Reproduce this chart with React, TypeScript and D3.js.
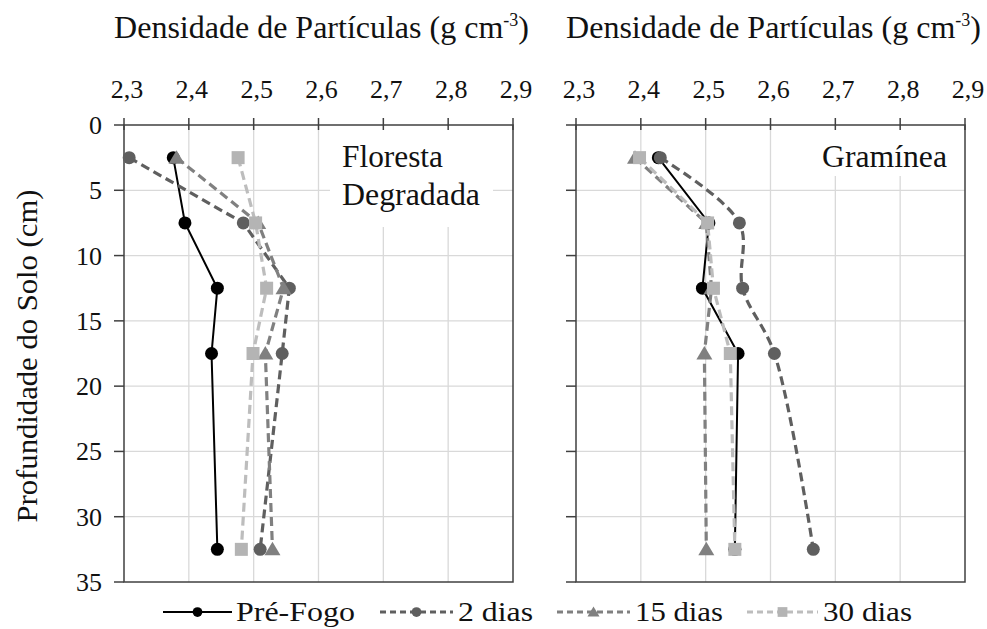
import React from 'react';
import * as d3 from 'd3';

// depths (cm) of the sampled layers
const depths = [2.5, 7.5, 12.5, 17.5, 32.5];
const xTicks = [2.3, 2.4, 2.5, 2.6, 2.7, 2.8, 2.9];
const yTicks = [0, 5, 10, 15, 20, 25, 30, 35];
const seriesNames = ['Pré-Fogo', '2 dias', '15 dias', '30 dias'];

// Floresta Degradada
const florestaPre = [2.376, 2.394, 2.444, 2.435, 2.444];
const floresta2 = [2.308, 2.484, 2.555, 2.544, 2.51];
const floresta15 = [2.381, 2.507, 2.546, 2.518, 2.529];
const floresta30 = [2.476, 2.503, 2.52, 2.499, 2.481];

// Gramínea
const gramPre = [2.427, 2.505, 2.495, 2.55, 2.545];
const gram2 = [2.43, 2.552, 2.557, 2.606, 2.666];
const gram15 = [2.391, 2.501, 2.509, 2.498, 2.501];
const gram30 = [2.398, 2.503, 2.512, 2.538, 2.545];

const styles = [
  { color: '#000000', marker: '#000000', dash: '', width: 2, shape: 'circle' },
  { color: '#5f5f5f', marker: '#5f5f5f', dash: '9,5', width: 3.2, shape: 'circle' },
  { color: '#808080', marker: '#808080', dash: '9,5', width: 3.2, shape: 'triangle' },
  { color: '#bdbdbd', marker: '#b4b4b4', dash: '9,5', width: 3.2, shape: 'square' },
];

const font = '"Liberation Serif", Tinos, "Times New Roman", "DejaVu Serif", "Noto Serif", serif';
const ink = '#111';

const Marker = ({ x, y, shape, fill, s = 1 }: { x: number; y: number; shape: string; fill: string; s?: number }) => {
  if (shape === 'circle') return <circle cx={x} cy={y} r={6.5 * s} fill={fill} />;
  if (shape === 'square') return <rect x={x - 6.5 * s} y={y - 6.5 * s} width={13 * s} height={13 * s} fill={fill} />;
  return <path d={`M${x},${y - 7.5 * s}L${x + 8 * s},${y + 6 * s}L${x - 8 * s},${y + 6 * s}Z`} fill={fill} />;
};

type Label = { text: string; x: number; y: number; w: number };

const Panel = ({
  left,
  series,
  smooth,
  label,
  box,
}: {
  left: number;
  series: number[][];
  smooth: boolean[];
  label: Label[];
  box: [number, number, number, number];
}) => {
  const top = 125;
  const bottom = 582;
  const width = 389;
  const x = d3.scaleLinear().domain([2.3, 2.9]).range([left, left + width]);
  const y = d3.scaleLinear().domain([0, 35]).range([top, bottom]);
  const mkLine = (s: boolean) =>
    d3
      .line<number>()
      .x((d) => x(d))
      .y((_, i) => y(depths[i]))
      .curve(s ? d3.curveCatmullRom.alpha(0.5) : d3.curveLinear);
  const axisColor = '#404040';
  return (
    <g>
      {xTicks.slice(1, -1).map((t) => (
        <line key={'gx' + t} x1={x(t)} x2={x(t)} y1={top} y2={bottom} stroke="#d9d9d9" strokeWidth={1.3} />
      ))}
      {yTicks.slice(1, -1).map((t) => (
        <line key={'gy' + t} x1={left} x2={left + width} y1={y(t)} y2={y(t)} stroke="#d9d9d9" strokeWidth={1.3} />
      ))}
      {/* label box hides the grid behind the text */}
      <rect x={box[0]} y={box[1]} width={box[2]} height={box[3]} fill="#fff" />
      {label.map((l) => (
        <text key={l.text} x={l.x} y={l.y} fontSize={31} fontFamily={font} fill={ink} textLength={l.w} lengthAdjust="spacingAndGlyphs">
          {l.text}
        </text>
      ))}
      <rect x={left} y={top} width={width} height={bottom - top} fill="none" stroke={axisColor} strokeWidth={1.5} />
      {xTicks.map((t) => (
        <g key={'xt' + t}>
          <line x1={x(t)} x2={x(t)} y1={top - 7} y2={top + 5} stroke={axisColor} strokeWidth={1.5} />
          <text x={x(t) + 3} y={98} textAnchor="middle" fontSize={26} fontFamily={font} fill={ink}>
            {d3.format('.1f')(t).replace('.', ',')}
          </text>
        </g>
      ))}
      {yTicks.map((t) => (
        <line key={'yt' + t} x1={left - 10} x2={left} y1={y(t)} y2={y(t)} stroke={axisColor} strokeWidth={1.5} />
      ))}
      <text x={left + width / 2 + 3} y={38} textAnchor="middle" fontSize={32} fontFamily={font} fill={ink}>
        Densidade de Partículas (g cm
        <tspan fontSize={18} dy={-12}>
          -3
        </tspan>
        <tspan dy={12}>)</tspan>
      </text>
      {series.map((vals, si) => (
        <path
          key={'l' + si}
          d={mkLine(smooth[si])(vals) || ''}
          fill="none"
          stroke={styles[si].color}
          strokeWidth={styles[si].width}
          strokeDasharray={styles[si].dash}
        />
      ))}
      {series.map((vals, si) =>
        vals.map((v, i) => (
          <Marker key={'m' + si + '-' + i} x={x(v)} y={y(depths[i])} shape={styles[si].shape} fill={styles[si].marker} />
        ))
      )}
    </g>
  );
};

export default function App() {
  const y = d3.scaleLinear().domain([0, 35]).range([125, 582]);
  const legendPos = [
    { x1: 163, x2: 232, tx: 236, w: 119 },
    { x1: 380, x2: 453, tx: 458, w: 75 },
    { x1: 557, x2: 630, tx: 635, w: 88 },
    { x1: 747, x2: 818, tx: 823, w: 89 },
  ];
  return (
    <svg width={987} height={629} style={{ position: 'absolute', left: 0, top: 0, background: '#fff' }}>
      <rect width={987} height={629} fill="#fff" />
      {yTicks.map((t) => (
        <text key={t} x={102} y={y(t) + 9} textAnchor="end" fontSize={26} fontFamily={font} fill={ink}>
          {t}
        </text>
      ))}
      <text
        transform={`translate(37,${356}) rotate(-90)`}
        textAnchor="middle"
        fontSize={30}
        fontFamily={font}
        fill={ink}
        textLength={333}
        lengthAdjust="spacingAndGlyphs"
      >
        Profundidade do Solo (cm)
      </text>
      <Panel
        left={124}
        series={[florestaPre, floresta2, floresta15, floresta30]}
        smooth={[false, false, false, false]}
        label={[
          { text: 'Floresta', x: 342, y: 167, w: 101 },
          { text: 'Degradada', x: 342, y: 205, w: 138 },
        ]}
        box={[330, 126, 163, 101]}
      />
      <Panel
        left={576}
        series={[gramPre, gram2, gram15, gram30]}
        smooth={[false, true, false, false]}
        label={[{ text: 'Gramínea', x: 822, y: 167, w: 125 }]}
        box={[815, 126, 150, 50]}
      />
      {seriesNames.map((name, i) => {
        const p = legendPos[i];
        const s = styles[i];
        return (
          <g key={name}>
            <line x1={p.x1} x2={p.x2} y1={612} y2={612} stroke={s.color} strokeWidth={s.width} strokeDasharray={s.dash ? '6,4' : ''} />
            <Marker x={(p.x1 + p.x2) / 2} y={612} shape={s.shape} fill={s.marker} s={0.75} />
            <text x={p.tx} y={621} fontSize={27} fontFamily={font} fill={ink} textLength={p.w} lengthAdjust="spacingAndGlyphs">
              {name}
            </text>
          </g>
        );
      })}
    </svg>
  );
}
